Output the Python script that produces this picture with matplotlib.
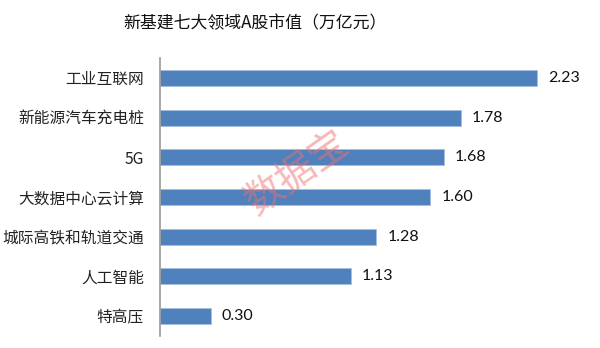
import matplotlib
matplotlib.use("Agg")
import matplotlib.pyplot as plt

plt.rcParams['font.family'] = ['Noto Sans CJK SC', 'DejaVu Sans']

title = "新基建七大领域A股市值（万亿元）"
categories = ["工业互联网", "新能源汽车充电桩", "5G", "大数据中心云计算",
              "城际高铁和轨道交通", "人工智能", "特高压"]
values = [2.23, 1.78, 1.68, 1.60, 1.28, 1.13, 0.30]
watermark = "数据宝"

W, H = 600, 348
fig = plt.figure(figsize=(W / 100, H / 100), dpi=100)
left, right = 160 / W, 590 / W
bottom, top = 1 - 336 / H, 1 - 58 / H
ax = fig.add_axes([left, bottom, right - left, top - bottom])

pos = list(range(len(categories)))
ax.barh(pos, values, height=0.4, color="#4F81BD", edgecolor="#A7C0E0", linewidth=0.6)
ax.set_ylim(len(categories) - 0.5, -0.5)
xmax = 2.23 * (590 - 160) / (537 - 160)
ax.set_xlim(0, xmax)
ax.set_yticks(pos)
ax.set_yticklabels(categories, fontsize=11.3, color="#222222")
ax.tick_params(axis='y', length=0, pad=11.5)
ax.set_xticks([])
for s in ["top", "right", "bottom"]:
    ax.spines[s].set_visible(False)
ax.spines["left"].set_color("#999999")
ax.spines["left"].set_linewidth(1.2)

for p, v in zip(pos, values):
    ax.annotate(f"{v:.2f}", xy=(v, p), xytext=(8, 0), textcoords="offset points",
                va="center", ha="left", fontsize=11.5, color="#111111",
                family=["Lato", "DejaVu Sans"])

fig.text(255 / W, 1 - 23 / H, title, ha="center", va="center", fontsize=12.2, color="#111111")

fig.text(297 / W, 1 - 173 / H, watermark, ha="center", va="center", fontsize=28,
         rotation=35, color="#F07070", alpha=0.5, zorder=10)

fig.savefig("out.png", dpi=100, facecolor="white")
